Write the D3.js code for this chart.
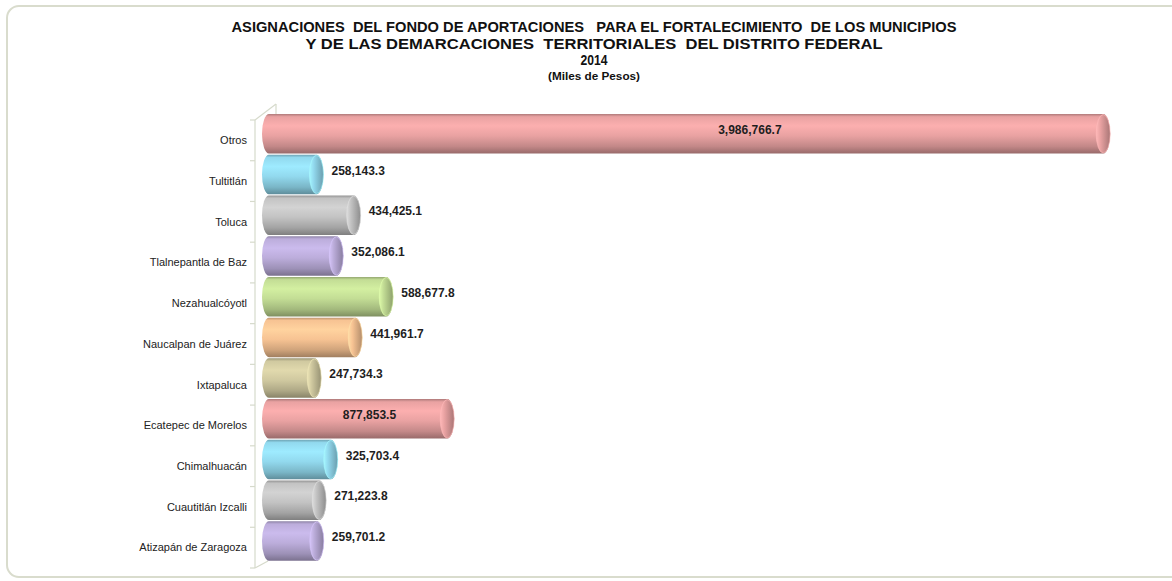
<!DOCTYPE html>
<html>
<head>
<meta charset="utf-8">
<script src="https://cdn.jsdelivr.net/npm/d3@7"></script>
<style>
  html, body { margin: 0; padding: 0; background: #fff; }
  svg { display: block; }
</style>
</head>
<body>
<div id="chart"></div>
<script>
// data, top to bottom as in the chart
var categories = ["Otros", "Tultitlán", "Toluca", "Tlalnepantla de Baz", "Nezahualcóyotl",
	"Naucalpan de Juárez", "Ixtapaluca", "Ecatepec de Morelos", "Chimalhuacán",
	"Cuautitlán Izcalli", "Atizapán de Zaragoza"];
var values = [3986766.7, 258143.3, 434425.1, 352086.1, 588677.8, 441961.7,
	247734.3, 877853.5, 325703.4, 271223.8, 259701.2];
var barColors = ["#e9a2a2", "#92d9ee", "#c3c3c3", "#bcaddb", "#c3dd95", "#f7c393",
	"#d0c9a0", "#e9a2a2", "#92d9ee", "#c3c3c3", "#bcaddb"];
var titleLines = ["ASIGNACIONES  DEL FONDO DE APORTACIONES   PARA EL FORTALECIMIENTO  DE LOS MUNICIPIOS",
	"Y DE LAS DEMARCACIONES  TERRITORIALES  DEL DISTRITO FEDERAL",
	"2014"];
var subtitle = "(Miles de Pesos)";

var width = 1172, height = 581;
var axis_x = 255, plot_top = 120, plot_bottom = 568,
	depth = 6, cap_rx = 7;

var svg = d3.select("#chart").append("svg")
	.attr("width", width)
	.attr("height", height);

var defs = svg.append("defs");

// chart frame
svg.append("rect")
	.attr("x", 7).attr("y", 6)
	.attr("width", 1190).attr("height", 571)
	.attr("rx", 12).attr("ry", 12)
	.attr("fill", "#fff")
	.attr("stroke", "#d9dccd")
	.attr("stroke-width", 2);

// titles
var titleFont = "'Liberation Sans Narrow', 'Arial Narrow', 'Liberation Sans', Arial, sans-serif";
var title_w = [725, 577, 27];
var title_y = [32, 49, 65];
var title_fs = ["15px", "15px", "14px"];
titleLines.forEach(function(t, i){
	svg.append("text")
		.attr("x", 594)
		.attr("y", title_y[i])
		.attr("text-anchor", "middle")
		.attr("font-family", titleFont)
		.attr("font-weight", "bold")
		.attr("font-size", title_fs[i])
		.attr("fill", "#111")
		.attr("textLength", title_w[i])
		.attr("lengthAdjust", "spacingAndGlyphs")
		.style("white-space", "pre")
		.text(t);
});
svg.append("text")
	.attr("x", 594)
	.attr("y", 80)
	.attr("text-anchor", "middle")
	.attr("font-family", titleFont)
	.attr("font-weight", "bold")
	.attr("font-size", "11px")
	.attr("fill", "#111")
	.attr("textLength", 92)
	.attr("lengthAdjust", "spacingAndGlyphs")
	.text(subtitle);

// scales
var x = d3.scaleLinear()
	.domain([0, 4000000])
	.range([262, 1106]);

var y = d3.scaleBand()
	.domain(categories)
	.range([plot_top, plot_bottom])
	.paddingInner(0)
	.paddingOuter(0);

// 3d wall lines
var wall = svg.append("g")
	.attr("stroke", "#d6dacb")
	.attr("stroke-width", 1.2)
	.attr("fill", "none");
wall.append("line").attr("x1", axis_x).attr("y1", plot_top).attr("x2", axis_x).attr("y2", plot_bottom);
wall.append("line").attr("x1", axis_x).attr("y1", plot_top).attr("x2", axis_x + 21).attr("y2", plot_top - 16);
wall.append("line").attr("x1", axis_x + 21).attr("y1", plot_top - 16).attr("x2", axis_x + 21).attr("y2", plot_top - 6);
wall.append("line").attr("x1", axis_x).attr("y1", plot_bottom).attr("x2", axis_x + 13).attr("y2", plot_bottom - 7);

// tick marks on band boundaries
var tick_ys = categories.map(function(c){ return y(c); }).concat([plot_bottom]);
wall.selectAll(".tk").data(tick_ys).enter().append("line")
	.attr("class", "tk")
	.attr("x1", axis_x - 5).attr("x2", axis_x)
	.attr("y1", function(d){ return d; })
	.attr("y2", function(d){ return d; });

// category labels
svg.append("g").selectAll("text")
	.data(categories).enter().append("text")
	.attr("x", 247)
	.attr("y", function(d){ return y(d) + y.bandwidth() / 2; })
	.attr("dy", "0.35em")
	.attr("text-anchor", "end")
	.attr("font-family", "'Liberation Sans', Arial, sans-serif")
	.attr("font-size", "11px")
	.attr("fill", "#222")
	.text(function(d){ return d; });

// gradients for cylinders
barColors.forEach(function(col, i){
	var c = d3.color(col);
	var g1 = defs.append("linearGradient")
		.attr("id", "body" + i)
		.attr("x1", 0).attr("y1", 0).attr("x2", 0).attr("y2", 1);
	[[0, c.darker(0.8)], [0.07, c], [0.3, c.brighter(0.22)], [0.55, c],
	 [0.82, c.darker(0.5)], [1, c.darker(1.2)]].forEach(function(s){
		g1.append("stop").attr("offset", s[0]).attr("stop-color", s[1]);
	});
	var g2 = defs.append("linearGradient")
		.attr("id", "cap" + i)
		.attr("x1", 0).attr("y1", 0).attr("x2", 1).attr("y2", 0);
	[[0, c.brighter(0.35)], [0.3, c], [1, c.darker(0.9)]].forEach(function(s){
		g2.append("stop").attr("offset", s[0]).attr("stop-color", s[1]);
	});
});

var fmt = d3.format(",.1f");
var bar_h = y.bandwidth() * 0.97;

var bars = svg.append("g").selectAll("g")
	.data(categories).enter().append("g");

bars.append("path")
	.attr("d", function(d, i){
		var y0 = y(d) - depth, x0 = x(0), x1 = x(values[i]), ry = bar_h / 2;
		return "M" + (x0 + cap_rx) + "," + y0 +
			"L" + x1 + "," + y0 +
			"A" + cap_rx + "," + ry + " 0 0 1 " + x1 + "," + (y0 + bar_h) +
			"L" + (x0 + cap_rx) + "," + (y0 + bar_h) +
			"A" + cap_rx + "," + ry + " 0 0 1 " + (x0 + cap_rx) + "," + y0 + "Z";
	})
	.attr("fill", function(d, i){ return "url(#body" + i + ")"; });

bars.append("ellipse")
	.attr("cx", function(d, i){ return x(values[i]); })
	.attr("cy", function(d){ return y(d) - depth + bar_h / 2; })
	.attr("rx", cap_rx)
	.attr("ry", bar_h / 2 - 0.5)
	.attr("fill", function(d, i){ return "url(#cap" + i + ")"; })
	.attr("stroke", function(d, i){ return d3.color(barColors[i]).brighter(0.4); })
	.attr("stroke-width", 0.6);

// value labels
bars.append("text")
	.attr("x", function(d, i){
		var v = values[i];
		if (v > 700000) return x(0) + (x(v) - x(0)) * 0.58;
		return x(v) + cap_rx + 8;
	})
	.attr("y", function(d){ return y(d) - depth + bar_h / 2 - 4; })
	.attr("dy", "0.35em")
	.attr("text-anchor", function(d, i){ return values[i] > 700000 ? "middle" : "start"; })
	.attr("font-family", "'Liberation Sans', Arial, sans-serif")
	.attr("font-weight", "bold")
	.attr("font-size", "12px")
	.attr("fill", "#1e1e1e")
	.text(function(d, i){ return fmt(values[i]); });
</script>
</body>
</html>
